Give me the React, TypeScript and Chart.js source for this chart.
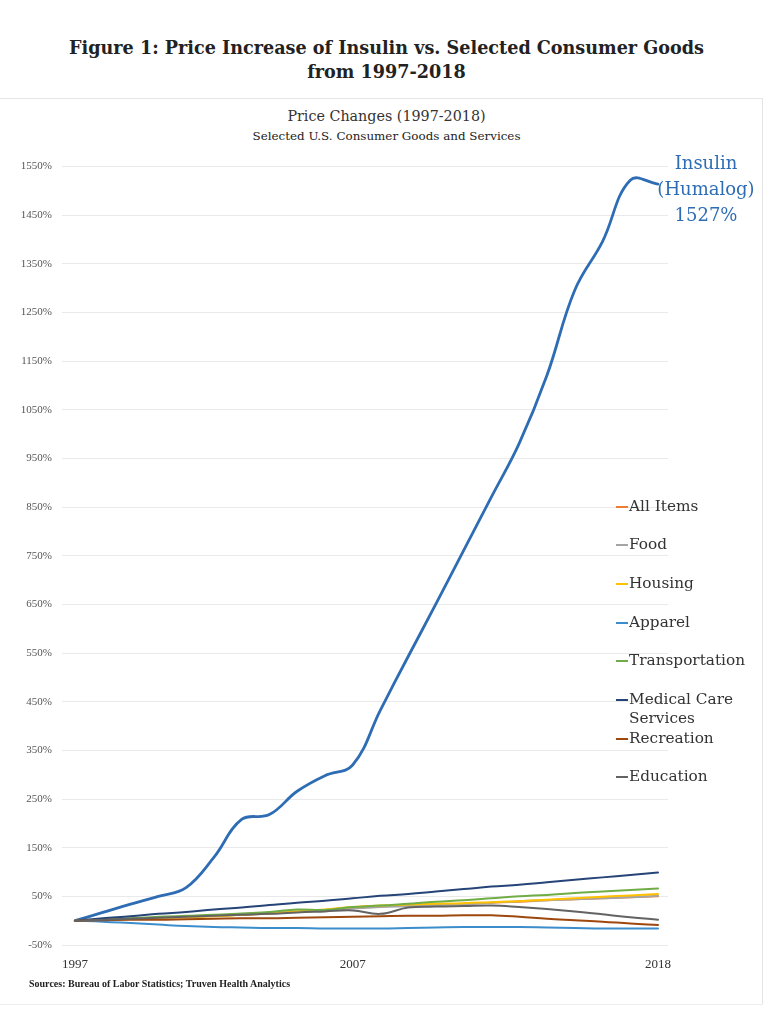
import React, { useEffect, useRef } from 'react';
import { Chart, registerables } from 'chart.js';
Chart.register(...registerables);

const years = [1997, 1998, 1999, 2000, 2001, 2002, 2003, 2004, 2005, 2006, 2007, 2008, 2009, 2010, 2011, 2012, 2013, 2014, 2015, 2016, 2017, 2018];

const insulin = [0, 17, 34, 50, 68, 130, 208, 218, 266, 298, 320, 433, 543, 651, 761, 871, 981, 1121, 1296, 1396, 1522, 1514];
const allItems = [0, 2, 4, 6, 8, 10, 12, 15, 18, 22, 27, 30, 31, 33, 35, 37, 39, 42, 44, 46, 48, 50];
const food = [0, 2, 4, 6, 8, 10, 13, 16, 19, 22, 25, 28, 30, 32, 34, 37, 40, 42, 44, 46, 48, 51];
const housing = [0, 2, 4, 6, 7, 9, 12, 15, 19, 23, 28, 31, 33, 35, 36, 38, 40, 43, 46, 49, 52, 55];
const apparel = [0, -2, -5, -8, -11, -13, -14, -15, -15, -16, -16, -16, -15, -14, -13, -13, -13, -14, -15, -16, -16, -16];
const transportation = [0, 2, 5, 8, 10, 12, 15, 18, 23, 22, 28, 31, 35, 39, 42, 46, 50, 53, 57, 60, 63, 66];
const medicalCare = [0, 5, 9, 14, 18, 23, 27, 32, 37, 41, 46, 51, 55, 60, 65, 70, 74, 79, 84, 89, 94, 99];
const recreation = [0, 1, 2, 2, 3, 4, 5, 5, 6, 7, 8, 9, 10, 10, 11, 11, 8, 4, 1, -2, -6, -9];
const education = [0, 2, 4, 6, 8, 10, 12, 14, 17, 19, 21, 14, 27, 29, 30, 31, 28, 24, 19, 13, 7, 2];

const seriesNames = ['All Items', 'Food', 'Housing', 'Apparel', 'Transportation', 'Medical Care Services', 'Recreation', 'Education'];
const seriesValues = [allItems, food, housing, apparel, transportation, medicalCare, recreation, education];
const seriesColors = ['#ED7D31', '#A5A5A5', '#FFC000', '#3C8DCB', '#70AD47', '#264478', '#9E480E', '#636363'];

const xTickLabels = [1997, 2007, 2018];
const yTickValues = [-50, 50, 150, 250, 350, 450, 550, 650, 750, 850, 950, 1050, 1150, 1250, 1350, 1450, 1550];

const insulinColor = '#2E6DB4';

export default function App() {
  const ref = useRef<HTMLCanvasElement>(null);

  useEffect(() => {
    const canvas = ref.current;
    if (!canvas) return;
    const pts = (arr: number[]) => arr.map((v, i) => ({ x: years[i], y: v }));
    const datasets: any[] = seriesNames.map((name, i) => ({
      label: name,
      data: pts(seriesValues[i]),
      borderColor: seriesColors[i],
      backgroundColor: seriesColors[i],
      borderWidth: 2,
      order: 8 - i,
    }));
    datasets.push({
      label: 'Insulin (Humalog)',
      data: pts(insulin),
      borderColor: insulinColor,
      backgroundColor: insulinColor,
      borderWidth: 2.8,
      order: 20,
    });
    const chart = new Chart(canvas, {
      type: 'line',
      data: { datasets },
      options: {
        responsive: false,
        animation: false,
        devicePixelRatio: 1,
        layout: { padding: { left: 0, right: 105, top: 10, bottom: 0 } },
        plugins: {
          legend: { display: false },
          tooltip: { enabled: false },
          title: { display: false },
        },
        elements: {
          point: { radius: 0, hoverRadius: 0 },
          line: { tension: 0.4, borderCapStyle: 'round', borderJoinStyle: 'round' },
        },
        scales: {
          x: {
            type: 'linear',
            min: 1996.53,
            max: 2018.36,
            grid: { display: false, drawTicks: false },
            border: { display: false },
            afterBuildTicks: (s: any) => {
              s.ticks = xTickLabels.map((v) => ({ value: v }));
            },
            afterFit: (s: any) => {
              s.height = 35;
            },
            ticks: {
              autoSkip: false,
              maxRotation: 0,
              padding: 12,
              color: '#333',
              font: { family: 'Liberation Serif', size: 13 },
              callback: (v: any) => String(v),
            },
          },
          y: {
            type: 'linear',
            min: -50,
            max: 1550,
            grid: { color: '#e9e9e9', lineWidth: 1, drawTicks: false },
            border: { display: false },
            afterBuildTicks: (s: any) => {
              s.ticks = yTickValues.map((v) => ({ value: v }));
            },
            afterFit: (s: any) => {
              s.width = 62;
            },
            ticks: {
              padding: 10,
              color: '#555',
              font: { family: 'Liberation Serif', size: 11 },
              callback: (v: any) => v + '%',
            },
          },
        },
      },
    });
    return () => chart.destroy();
  }, []);

  const serif = '"DejaVu Serif", serif';

  return (
    <div style={{ position: 'fixed', left: 0, top: 0, width: 773, height: 1013, background: '#fff', overflow: 'hidden', fontFamily: serif }}>
      <div style={{ position: 'absolute', left: 0, top: 36, width: 773, textAlign: 'center', fontWeight: 'bold', fontSize: 17.6, lineHeight: '24px', color: '#222' }}>
        Figure 1: Price Increase of Insulin vs. Selected Consumer Goods
        <br />
        from 1997-2018
      </div>
      <div style={{ position: 'absolute', left: 0, top: 98, width: 762, height: 905, borderTop: '1px solid #e4e4e4', borderRight: '1px solid #e4e4e4', borderBottom: '1px solid #eeeeee' }} />
      <div style={{ position: 'absolute', left: 0, top: 107, width: 773, textAlign: 'center', fontSize: 14.3, lineHeight: '19px', color: '#333' }}>
        Price Changes (1997-2018)
      </div>
      <div style={{ position: 'absolute', left: 0, top: 129, width: 773, textAlign: 'center', fontSize: 11.9, lineHeight: '15px', color: '#222' }}>
        Selected U.S. Consumer Goods and Services
      </div>
      <canvas ref={ref} width={773} height={830} style={{ position: 'absolute', left: 0, top: 150, width: 773, height: 830 }} />
      <div style={{ position: 'absolute', left: 646, top: 150, width: 120, textAlign: 'center', fontSize: 18, lineHeight: '26px', color: insulinColor }}>
        Insulin
        <br />
        (Humalog)
        <br />
        1527%
      </div>
      {seriesNames.map((name, i) => (
        <div key={name} style={{ position: 'absolute', left: 616, top: 496.5 + i * 38.7, width: 140, display: 'flex', alignItems: 'flex-start' }}>
          <div style={{ width: 12, height: 2, marginTop: 9, background: seriesColors[i], flex: 'none' }} />
          <div style={{ width: 120, marginLeft: 1, fontSize: 15.3, lineHeight: '19px', color: '#333' }}>{name}</div>
        </div>
      ))}
      <div style={{ position: 'absolute', left: 29, top: 978, fontFamily: '"Liberation Serif", serif', fontWeight: 'bold', fontSize: 10, lineHeight: '12px', color: '#222' }}>
        Sources: Bureau of Labor Statistics; Truven Health Analytics
      </div>
    </div>
  );
}
